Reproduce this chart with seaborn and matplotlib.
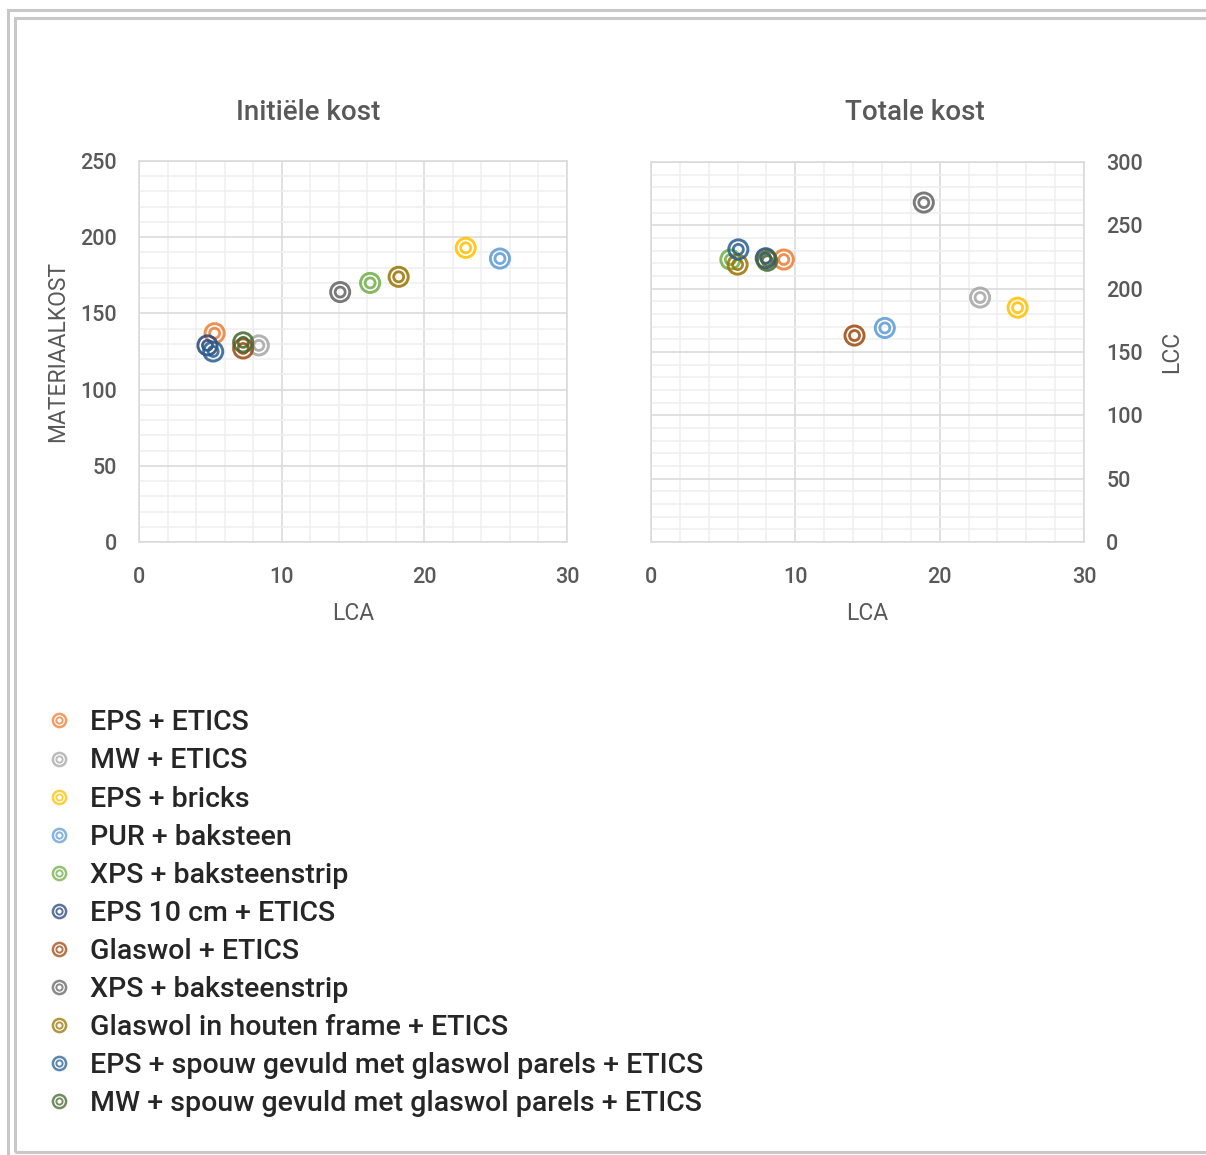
import matplotlib
matplotlib.use("Agg")
import matplotlib.pyplot as plt
from matplotlib.lines import Line2D
from matplotlib.legend_handler import HandlerTuple
from matplotlib.patches import Rectangle
from matplotlib.ticker import MultipleLocator
import seaborn as sns

# --- data -------------------------------------------------------------
materials = [
    "EPS + ETICS",
    "MW + ETICS",
    "EPS + bricks",
    "PUR + baksteen",
    "XPS + baksteenstrip",
    "EPS 10 cm + ETICS",
    "Glaswol + ETICS",
    "XPS + baksteenstrip",
    "Glaswol in houten frame + ETICS",
    "EPS + spouw gevuld met glaswol parels + ETICS",
    "MW + spouw gevuld met glaswol parels + ETICS",
]

# Initial cost chart
lca_initial = [5.3, 8.4, 22.9, 25.3, 16.2, 4.8, 7.3, 14.1, 18.2, 5.2, 7.3]
materiaalkost = [137, 129, 193, 186, 170, 129, 127, 164, 174, 125, 131]

# Total cost chart
lca_total = [9.2, 22.8, 25.4, 16.2, 5.5, 7.95, 14.1, 18.9, 6.0, 6.05, 8.05]
lcc = [223, 193, 185, 169, 223, 224, 163, 268, 219, 231, 222]

palette = ["#ED7D31", "#A5A5A5", "#FFC000", "#5B9BD5", "#70AD47", "#264478",
           "#9E480E", "#636363", "#997300", "#255E91", "#43682B"]

# --- style ------------------------------------------------------------
sns.set_theme(style="white")
plt.rcParams["font.family"] = ["Roboto", "DejaVu Sans"]
plt.rcParams["font.weight"] = "medium"

TXT = "#595959"
MAJOR = "#D9D9D9"
MINOR = "#EFEFEF"

fig = plt.figure(figsize=(12.06, 11.55), dpi=100)
W, H = 1206, 1155

ax1 = fig.add_axes([139 / W, 1 - 542 / H, 428 / W, 381 / H])
ax2 = fig.add_axes([651 / W, 1 - 542 / H, 433 / W, 380 / H])


def rings(ax, xs, ys):
    for i, col in enumerate(palette):
        sns.scatterplot(x=[xs[i]], y=[ys[i]], ax=ax, s=190, marker="o",
                        facecolor="none", edgecolor=col, linewidth=2.1,
                        alpha=0.85, legend=False, zorder=3)
        sns.scatterplot(x=[xs[i]], y=[ys[i]], ax=ax, s=52, marker="o",
                        facecolor="none", edgecolor=col, linewidth=2.0,
                        alpha=0.85, legend=False, zorder=3)


def style_axes(ax, ymax, ystep, right=False):
    ax.set_xlim(0, 30)
    ax.set_ylim(0, ymax)
    ax.xaxis.set_major_locator(MultipleLocator(10))
    ax.xaxis.set_minor_locator(MultipleLocator(2))
    ax.yaxis.set_major_locator(MultipleLocator(ystep))
    ax.yaxis.set_minor_locator(MultipleLocator(10))
    ax.grid(which="minor", color=MINOR, linewidth=1.1, zorder=0)
    ax.grid(which="major", color=MAJOR, linewidth=1.1, zorder=1)
    ax.set_axisbelow(True)
    for sp in ax.spines.values():
        sp.set_color(MAJOR)
        sp.set_linewidth(1.1)
    ax.tick_params(which="both", length=0, labelsize=15.5, labelcolor=TXT)
    ax.tick_params(axis="y", pad=16)
    ax.tick_params(axis="x", pad=18)
    if right:
        ax.yaxis.tick_right()
        ax.yaxis.set_label_position("right")


rings(ax1, lca_initial, materiaalkost)
rings(ax2, lca_total, lcc)

style_axes(ax1, 250, 50)
style_axes(ax2, 300, 50, right=True)

ax1.set_xlabel("LCA", fontsize=16.5, color=TXT, labelpad=10)
ax1.set_ylabel("MATERIAALKOST", fontsize=16.5, color=TXT, labelpad=8)
ax2.set_xlabel("LCA", fontsize=16.5, color=TXT, labelpad=10)
ax2.set_ylabel("LCC", fontsize=16.5, color=TXT, labelpad=12)

fig.text(308 / W, 1 - 112 / H, "Initiële kost", ha="center", va="center",
         fontsize=20, color=TXT)
fig.text(915 / W, 1 - 112 / H, "Totale kost", ha="center", va="center",
         fontsize=20, color=TXT)

# legend with concentric ring handles
handles = []
for col in palette:
    outer = Line2D([], [], ls="", marker="o", ms=9.5, mfc="none", mec=col,
                   mew=1.8, alpha=0.75)
    inner = Line2D([], [], ls="", marker="o", ms=4.5, mfc="none", mec=col,
                   mew=1.4, alpha=0.75)
    handles.append((outer, inner))

fig.legend(handles, materials, handler_map={tuple: HandlerTuple(ndivide=1)},
           loc="upper left", bbox_to_anchor=(33 / W, 1 - 698 / H),
           frameon=False, fontsize=20.5, labelspacing=0.39,
           handlelength=1.0, handletextpad=0.6, borderaxespad=0)

# chart frame
fig.add_artist(Rectangle((7.5 / W, -0.02), 1.1, 1 - 10.5 / H + 0.02,
                         transform=fig.transFigure, fill=False,
                         edgecolor="#C8C8C8", linewidth=2.2))
fig.add_artist(Rectangle((14.5 / W, 1 - 1152 / H), 1.1, (1152 - 17.5) / H,
                         transform=fig.transFigure, fill=False,
                         edgecolor="#C8C8C8", linewidth=2.2))

fig.savefig("out.png", dpi=100)
